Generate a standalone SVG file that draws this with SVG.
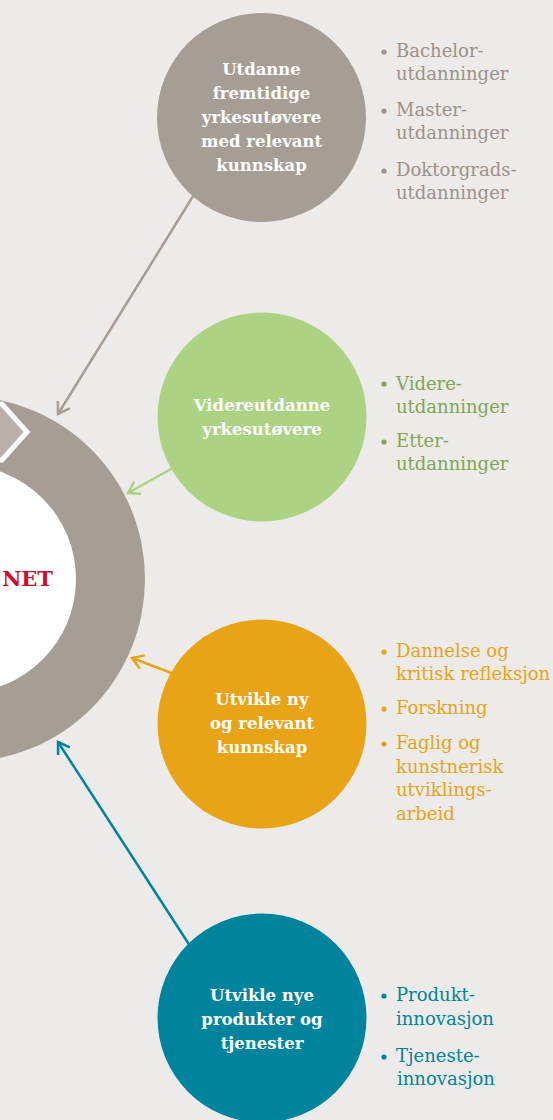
<svg xmlns="http://www.w3.org/2000/svg" width="553" height="1120" viewBox="0 0 553 1120">
<style>
.ctext{font-family:"DejaVu Serif","Liberation Serif",serif;font-weight:bold;font-size:16.5px;fill:#fff;text-anchor:middle}
.list{font-family:"DejaVu Serif","Liberation Serif",serif;font-size:18px}
.conn{fill:none;stroke-width:2.5}
</style>
<defs>
<marker id="ag" markerUnits="userSpaceOnUse" markerWidth="30" markerHeight="30" refX="0" refY="0" viewBox="-15 -15 30 30" orient="auto"><path d="M-11,-7 L0,0 L-11,7" fill="none" stroke="#a69d94" stroke-width="2.5"/></marker>
<marker id="agr" markerUnits="userSpaceOnUse" markerWidth="30" markerHeight="30" refX="0" refY="0" viewBox="-15 -15 30 30" orient="auto"><path d="M-11,-7 L0,0 L-11,7" fill="none" stroke="#acd384" stroke-width="2.5"/></marker>
<marker id="ao" markerUnits="userSpaceOnUse" markerWidth="30" markerHeight="30" refX="0" refY="0" viewBox="-15 -15 30 30" orient="auto"><path d="M-11,-7 L0,0 L-11,7" fill="none" stroke="#e8a317" stroke-width="2.5"/></marker>
<marker id="at" markerUnits="userSpaceOnUse" markerWidth="30" markerHeight="30" refX="0" refY="0" viewBox="-15 -15 30 30" orient="auto"><path d="M-11,-7 L0,0 L-11,7" fill="none" stroke="#00849e" stroke-width="2.5"/></marker>
</defs>
<rect width="553" height="1120" fill="#edebe9"/>
<g id="hub">
<circle cx="-38" cy="579" r="183" fill="#a69d94"/>
<polygon points="-40,404 2,404 27,432 2,460 -40,460" fill="#b9b1a9" stroke="#fff" stroke-width="5" stroke-linejoin="miter"/>
<circle cx="-38" cy="579" r="114" fill="#fff"/>
<text x="53" y="586" text-anchor="end" font-family="DejaVu Serif,Liberation Serif,serif" font-weight="bold" font-size="21" fill="#c8102e">NET</text>
</g>
<g id="connectors">
<line class="conn" x1="195" y1="193" x2="58" y2="414" stroke="#a69d94" marker-end="url(#ag)"/>
<line class="conn" x1="180" y1="464" x2="128" y2="493" stroke="#acd384" marker-end="url(#agr)"/>
<line class="conn" x1="182" y1="677" x2="132" y2="658" stroke="#e8a317" marker-end="url(#ao)"/>
<line class="conn" x1="192" y1="949" x2="58" y2="742" stroke="#00849e" stroke-width="3" marker-end="url(#at)"/>
</g>
<g id="node-utdanne">
<circle cx="261.5" cy="117.5" r="104.5" fill="#a69d94"/>
<text class="ctext" x="261.5" y="75">Utdanne</text>
<text class="ctext" x="261.5" y="99">fremtidige</text>
<text class="ctext" x="261.5" y="123">yrkesutøvere</text>
<text class="ctext" x="261.5" y="147">med relevant</text>
<text class="ctext" x="261.5" y="171">kunnskap</text>
</g>
<g id="list-utdanne" class="list" fill="#9c928a">
<circle cx="384" cy="52" r="2.6"/>
<text x="396" y="57">Bachelor-</text>
<text x="396" y="80">utdanninger</text>
<circle cx="384" cy="111" r="2.6"/>
<text x="396" y="116">Master-</text>
<text x="396" y="139">utdanninger</text>
<circle cx="384" cy="171" r="2.6"/>
<text x="396" y="176">Doktorgrads-</text>
<text x="396" y="199">utdanninger</text>
</g>
<g id="node-videre">
<circle cx="262" cy="417" r="104.5" fill="#acd384"/>
<text class="ctext" x="262" y="411">Videreutdanne</text>
<text class="ctext" x="262" y="435">yrkesutøvere</text>
</g>
<g id="list-videre" class="list" fill="#7fa653">
<circle cx="384" cy="384" r="2.6"/>
<text x="396" y="390">Videre-</text>
<text x="396" y="413">utdanninger</text>
<circle cx="384" cy="442" r="2.6"/>
<text x="396" y="447">Etter-</text>
<text x="396" y="470">utdanninger</text>
</g>
<g id="node-kunnskap">
<circle cx="262" cy="724" r="104.5" fill="#e8a317"/>
<text class="ctext" x="262" y="705">Utvikle ny</text>
<text class="ctext" x="262" y="729">og relevant</text>
<text class="ctext" x="262" y="753">kunnskap</text>
</g>
<g id="list-kunnskap" class="list" fill="#e8a317">
<circle cx="384" cy="652" r="2.6"/>
<text x="396" y="657">Dannelse og</text>
<text x="396" y="680">kritisk refleksjon</text>
<circle cx="384" cy="709" r="2.6"/>
<text x="396" y="714">Forskning</text>
<circle cx="384" cy="744" r="2.6"/>
<text x="396" y="749">Faglig og</text>
<text x="396" y="773">kunstnerisk</text>
<text x="396" y="796">utviklings-</text>
<text x="396" y="820">arbeid</text>
</g>
<g id="node-produkter">
<circle cx="262" cy="1018" r="104.5" fill="#00849e"/>
<text class="ctext" x="262" y="1001">Utvikle nye</text>
<text class="ctext" x="262" y="1025">produkter og</text>
<text class="ctext" x="262" y="1049">tjenester</text>
</g>
<g id="list-produkter" class="list" fill="#00849e">
<circle cx="384" cy="996" r="2.6"/>
<text x="396" y="1001">Produkt-</text>
<text x="396" y="1025">innovasjon</text>
<circle cx="384" cy="1057" r="2.6"/>
<text x="396" y="1062">Tjeneste-</text>
<text x="397" y="1085">innovasjon</text>
</g>
</svg>
